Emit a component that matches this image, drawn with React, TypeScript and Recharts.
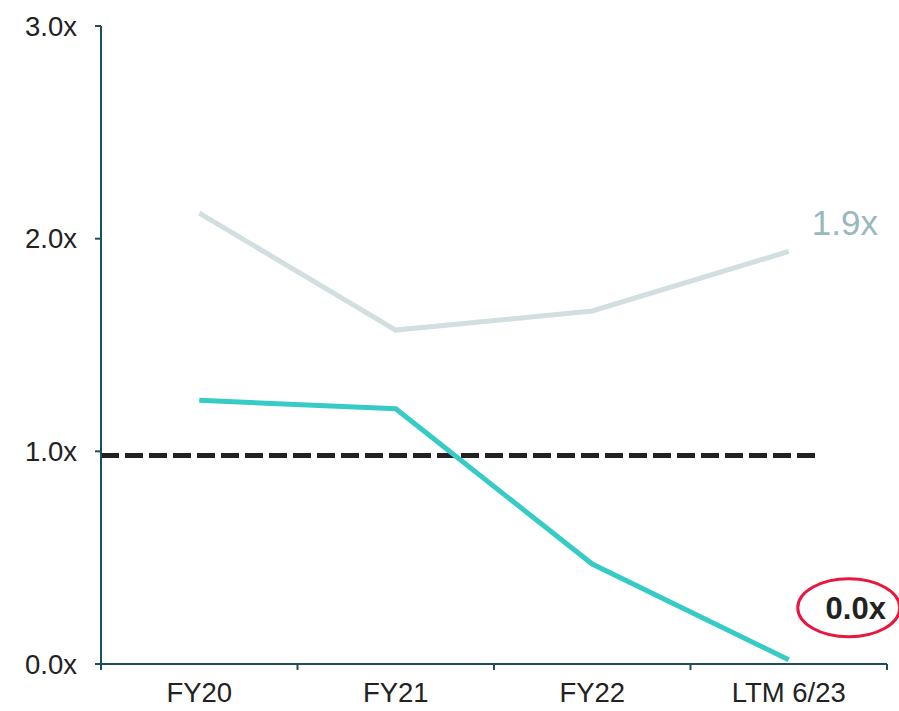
import React from "react";
import {
    LineChart,
    Line,
    XAxis,
    YAxis,
    ReferenceLine,
    LabelList,
} from "recharts";

const categories = ["FY20", "FY21", "FY22", "LTM 6/23"];
const peerValues = [2.12, 1.57, 1.66, 1.94];
const companyValues = [1.24, 1.2, 0.47, 0.02];
const yTicks = [0, 1, 2, 3];
const thresholdValue = 0.98;
const thresholdEnd = 3.66;
const peerLabel = "1.9x";
const companyLabel = "0.0x";

const AXIS = "#1b4f5a";
const FONT = "Liberation Sans, Arial, sans-serif";

// x positions live in band-index space so ticks can sit on band edges
const data = categories.map((name, i) => ({
    x: i + 0.5,
    name,
    peer: peerValues[i],
    company: companyValues[i],
}));

const xTicks = [0, 0.5, 1, 1.5, 2, 2.5, 3, 3.5, 4];

const XTick = ({ x, y, payload }: any) => {
    const v = payload.value;
    if (Number.isInteger(v)) {
        return <line x1={x} x2={x} y1={y} y2={y + 6} stroke={AXIS} strokeWidth={2} />;
    }
    const label = categories[Math.floor(v)];
    return (
        <text x={x} y={y + 31} textAnchor="middle" dominantBaseline="middle" fill="#222" fontSize={27.5} fontFamily={FONT}>
            {label}
        </text>
    );
};

const PeerEndLabel = ({ x, y, index }: any) => {
    if (index !== peerValues.length - 1) return null;
    return (
        <text x={x + 23} y={y - 26} dominantBaseline="middle" fill="#9bb7c0" fontSize={35} fontFamily={FONT}>
            {peerLabel}
        </text>
    );
};

const CompanyEndLabel = ({ x, y, index }: any) => {
    if (index !== companyValues.length - 1) return null;
    return (
        <g>
            <ellipse cx={x + 60} cy={y - 52} rx={51} ry={29} fill="none" stroke="#e8173c" strokeWidth={3} />
            <text x={x + 67} y={y - 49} textAnchor="middle" dominantBaseline="middle" fill="#222" fontSize={31} fontWeight="bold" fontFamily={FONT}>
                {companyLabel}
            </text>
        </g>
    );
};

export default function App() {
    return (
        <div style={{ position: "absolute", left: 0, top: 0, background: "#fff" }}>
            <LineChart
                width={899}
                height={711}
                data={data}
                margin={{ top: 26, right: 12, left: 41, bottom: 7 }}
            >
                <XAxis
                    dataKey="x"
                    type="number"
                    domain={[0, 4]}
                    ticks={xTicks}
                    interval={0}
                    tickLine={false}
                    tickSize={0}
                    tickMargin={0}
                    tick={<XTick />}
                    axisLine={{ stroke: AXIS, strokeWidth: 2 }}
                    height={40}
                />
                <YAxis
                    domain={[0, 3]}
                    ticks={yTicks}
                    width={60}
                    tickSize={6}
                    tickMargin={18}
                    tickLine={{ stroke: AXIS, strokeWidth: 2 }}
                    axisLine={{ stroke: AXIS, strokeWidth: 2 }}
                    tick={{ fill: "#222", fontSize: 27.5, fontFamily: FONT }}
                    tickFormatter={(v) => `${v.toFixed(1)}x`}
                />
                <ReferenceLine
                    segment={[
                        { x: 0, y: thresholdValue },
                        { x: thresholdEnd, y: thresholdValue },
                    ]}
                    stroke="#222"
                    strokeWidth={5}
                    strokeDasharray="18 6"
                    ifOverflow="visible"
                />
                <Line
                    dataKey="peer"
                    stroke="#d3dee0"
                    strokeWidth={5}
                    dot={false}
                    isAnimationActive={false}
                >
                    <LabelList dataKey="peer" content={<PeerEndLabel />} />
                </Line>
                <Line
                    dataKey="company"
                    stroke="#36cbc5"
                    strokeWidth={5}
                    dot={false}
                    isAnimationActive={false}
                >
                    <LabelList dataKey="company" content={<CompanyEndLabel />} />
                </Line>
            </LineChart>
        </div>
    );
}
